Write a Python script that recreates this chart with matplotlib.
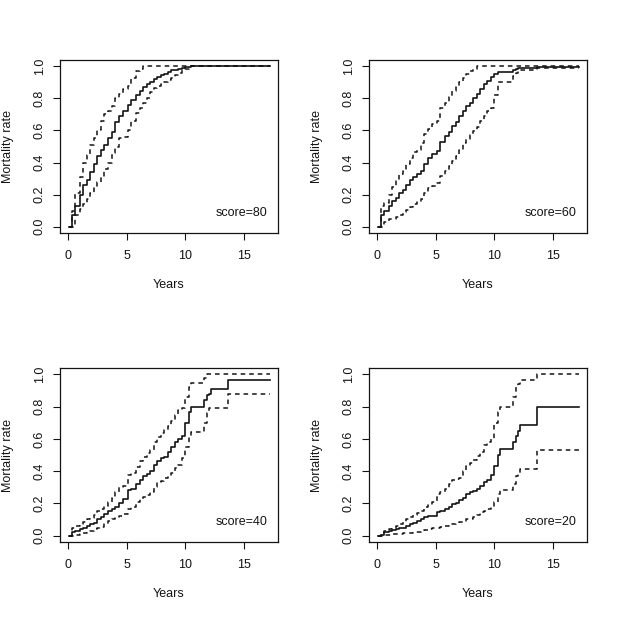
import matplotlib.pyplot as plt

plt.rcParams['font.family'] = ['Liberation Sans', 'DejaVu Sans']
plt.rcParams['font.size'] = 9

# event times (years) shared by all curves
years = [0.1, 0.3, 0.6, 1.0, 1.3, 1.6, 1.9, 2.2, 2.5, 2.8, 3.1, 3.4, 3.7, 4.0,
         4.3, 4.7, 5.1, 5.4, 5.8, 6.1, 6.4, 6.7, 7.0, 7.3, 7.6, 7.9, 8.2, 8.5,
         8.8, 9.1, 9.4, 9.7, 10.0, 10.3, 10.5, 11.6, 11.8, 12.0, 12.2, 13.6, 17.2]

# score = 80
mort80 = [0.0, 0.07, 0.13, 0.20, 0.26, 0.29, 0.34, 0.39, 0.44, 0.48, 0.51, 0.55, 0.59, 0.65,
          0.69, 0.72, 0.76, 0.79, 0.82, 0.845, 0.87, 0.89, 0.90, 0.92, 0.935, 0.945, 0.955, 0.965,
          0.975, 0.98, 0.985, 0.99, 0.995, 0.998, 1.0, 1.0, 1.0, 1.0, 1.0, 1.0, 1.0]
hi80 = [0.0, 0.10, 0.21, 0.31, 0.40, 0.45, 0.51, 0.55, 0.60, 0.66, 0.70, 0.72, 0.75, 0.80,
        0.83, 0.86, 0.88, 0.93, 0.97, 0.985, 1.0, 1.0, 1.0, 1.0, 1.0, 1.0, 1.0, 1.0,
        1.0, 1.0, 1.0, 1.0, 1.0, 1.0, 1.0, 1.0, 1.0, 1.0, 1.0, 1.0, 1.0]
lo80 = [0.0, 0.0, 0.07, 0.11, 0.14, 0.17, 0.21, 0.24, 0.28, 0.31, 0.36, 0.40, 0.46, 0.50,
        0.55, 0.56, 0.60, 0.66, 0.71, 0.74, 0.77, 0.80, 0.84, 0.865, 0.875, 0.89, 0.90, 0.915,
        0.93, 0.945, 0.96, 0.975, 0.985, 0.99, 1.0, 1.0, 1.0, 1.0, 1.0, 1.0, 1.0]

# score = 60
mort60 = [0.0, 0.07, 0.10, 0.13, 0.16, 0.18, 0.21, 0.23, 0.26, 0.29, 0.31, 0.33, 0.35, 0.39,
          0.43, 0.455, 0.47, 0.525, 0.565, 0.59, 0.625, 0.655, 0.69, 0.72, 0.755, 0.77, 0.80, 0.83,
          0.86, 0.89, 0.91, 0.935, 0.955, 0.967, 0.967, 0.975, 0.985, 0.99, 0.993, 0.995, 0.995]
hi60 = [0.0, 0.13, 0.15, 0.20, 0.25, 0.29, 0.33, 0.35, 0.39, 0.43, 0.465, 0.48, 0.52, 0.58,
        0.61, 0.64, 0.66, 0.74, 0.77, 0.81, 0.845, 0.87, 0.90, 0.93, 0.955, 0.97, 0.985, 1.0,
        1.0, 1.0, 1.0, 1.0, 1.0, 1.0, 1.0, 1.0, 1.0, 1.0, 1.0, 1.0, 1.0]
lo60 = [0.0, 0.0, 0.03, 0.045, 0.05, 0.06, 0.075, 0.09, 0.105, 0.125, 0.14, 0.155, 0.17, 0.21,
        0.24, 0.255, 0.27, 0.315, 0.35, 0.38, 0.41, 0.44, 0.48, 0.52, 0.545, 0.57, 0.595, 0.62,
        0.66, 0.69, 0.72, 0.74, 0.82, 0.90, 0.90, 0.94, 0.96, 0.975, 0.975, 0.99, 0.99]

# score = 40
mort40 = [0.0, 0.02, 0.03, 0.04, 0.05, 0.06, 0.07, 0.08, 0.10, 0.115, 0.135, 0.15, 0.165, 0.18,
          0.205, 0.228, 0.28, 0.29, 0.32, 0.345, 0.37, 0.385, 0.40, 0.44, 0.46, 0.48, 0.49, 0.52,
          0.55, 0.58, 0.60, 0.62, 0.70, 0.77, 0.80, 0.84, 0.87, 0.88, 0.907, 0.965, 0.965]
hi40 = [0.0, 0.05, 0.06, 0.07, 0.085, 0.10, 0.11, 0.13, 0.15, 0.165, 0.185, 0.21, 0.235, 0.27,
        0.30, 0.31, 0.375, 0.39, 0.425, 0.46, 0.49, 0.51, 0.53, 0.58, 0.61, 0.635, 0.655, 0.68,
        0.71, 0.75, 0.78, 0.79, 0.86, 0.92, 0.95, 0.98, 1.0, 1.0, 1.0, 1.0, 1.0]
lo40 = [0.0, 0.0, 0.005, 0.01, 0.015, 0.025, 0.03, 0.04, 0.045, 0.055, 0.07, 0.09, 0.10, 0.11,
        0.12, 0.135, 0.166, 0.18, 0.207, 0.225, 0.24, 0.25, 0.27, 0.30, 0.33, 0.34, 0.355, 0.375,
        0.39, 0.42, 0.44, 0.48, 0.55, 0.62, 0.645, 0.70, 0.76, 0.79, 0.79, 0.88, 0.88]

# score = 20
mort20 = [0.0, 0.006, 0.02, 0.03, 0.035, 0.04, 0.045, 0.05, 0.06, 0.07, 0.08, 0.09, 0.10, 0.115,
          0.12, 0.124, 0.145, 0.15, 0.166, 0.18, 0.197, 0.205, 0.218, 0.235, 0.255, 0.27, 0.275, 0.29,
          0.31, 0.33, 0.342, 0.375, 0.43, 0.50, 0.54, 0.58, 0.62, 0.65, 0.685, 0.80, 0.80]
hi20 = [0.0, 0.015, 0.03, 0.04, 0.05, 0.06, 0.07, 0.085, 0.10, 0.115, 0.125, 0.14, 0.155, 0.18,
        0.19, 0.207, 0.26, 0.27, 0.29, 0.32, 0.342, 0.35, 0.355, 0.40, 0.43, 0.45, 0.47, 0.495,
        0.52, 0.56, 0.58, 0.60, 0.70, 0.77, 0.80, 0.86, 0.92, 0.94, 0.965, 1.0, 1.0]
lo20 = [0.0, 0.0, 0.003, 0.005, 0.007, 0.01, 0.012, 0.014, 0.016, 0.018, 0.02, 0.025, 0.03, 0.035,
        0.04, 0.045, 0.05, 0.055, 0.06, 0.065, 0.07, 0.08, 0.085, 0.09, 0.10, 0.105, 0.115, 0.13,
        0.145, 0.155, 0.165, 0.18, 0.21, 0.26, 0.28, 0.32, 0.37, 0.39, 0.415, 0.53, 0.53]

scores = ["score=80", "score=60", "score=40", "score=20"]
curves = [(mort80, lo80, hi80), (mort60, lo60, hi60),
          (mort40, lo40, hi40), (mort20, lo20, hi20)]

W, H = 618, 617
fig = plt.figure(figsize=(W / 100, H / 100), dpi=100)

# axes boxes in pixels: left, top, right, bottom
boxes = [(60, 60, 278, 233), (369, 60, 587, 233),
         (60, 368, 278, 542), (369, 368, 587, 542)]

ink = '#141414'
for (l, t, r, b), label, (mid, lo, hi) in zip(boxes, scores, curves):
    ax = fig.add_axes([l / W, 1 - b / H, (r - l) / W, (b - t) / H])
    ax.plot(years, mid, drawstyle='steps-post', color=ink, lw=1.2)
    for band in (lo, hi):
        ax.plot(years, band, drawstyle='steps-post', color=ink, lw=1.1,
                linestyle=(0, (3, 2.6)))
    ax.set_xlim(-0.69, 17.89)
    ax.set_ylim(-0.04, 1.04)
    ax.set_xticks([0, 5, 10, 15])
    ax.set_yticks([0.0, 0.2, 0.4, 0.6, 0.8, 1.0])
    ax.set_yticklabels(['0.0', '0.2', '0.4', '0.6', '0.8', '1.0'])
    ax.tick_params(direction='out', length=4.8, width=0.8, colors=ink)
    ax.tick_params(axis='x', pad=7.5)
    ax.tick_params(axis='y', pad=5.5, labelrotation=90)
    for lab in ax.get_yticklabels():
        lab.set_va('center')
    for sp in ax.spines.values():
        sp.set_linewidth(0.9)
        sp.set_color(ink)
    ax.set_xlabel('Years', va='center', color=ink)
    ax.xaxis.set_label_coords(0.5, -52 / (b - t))
    ax.set_ylabel('Mortality rate', va='center', color=ink)
    ax.yaxis.set_label_coords(-52 / (r - l), 0.5)
    ax.text(0.95, 0.117, label, transform=ax.transAxes, ha='right', va='center',
            color=ink)

fig.savefig('out.png', dpi=100)
